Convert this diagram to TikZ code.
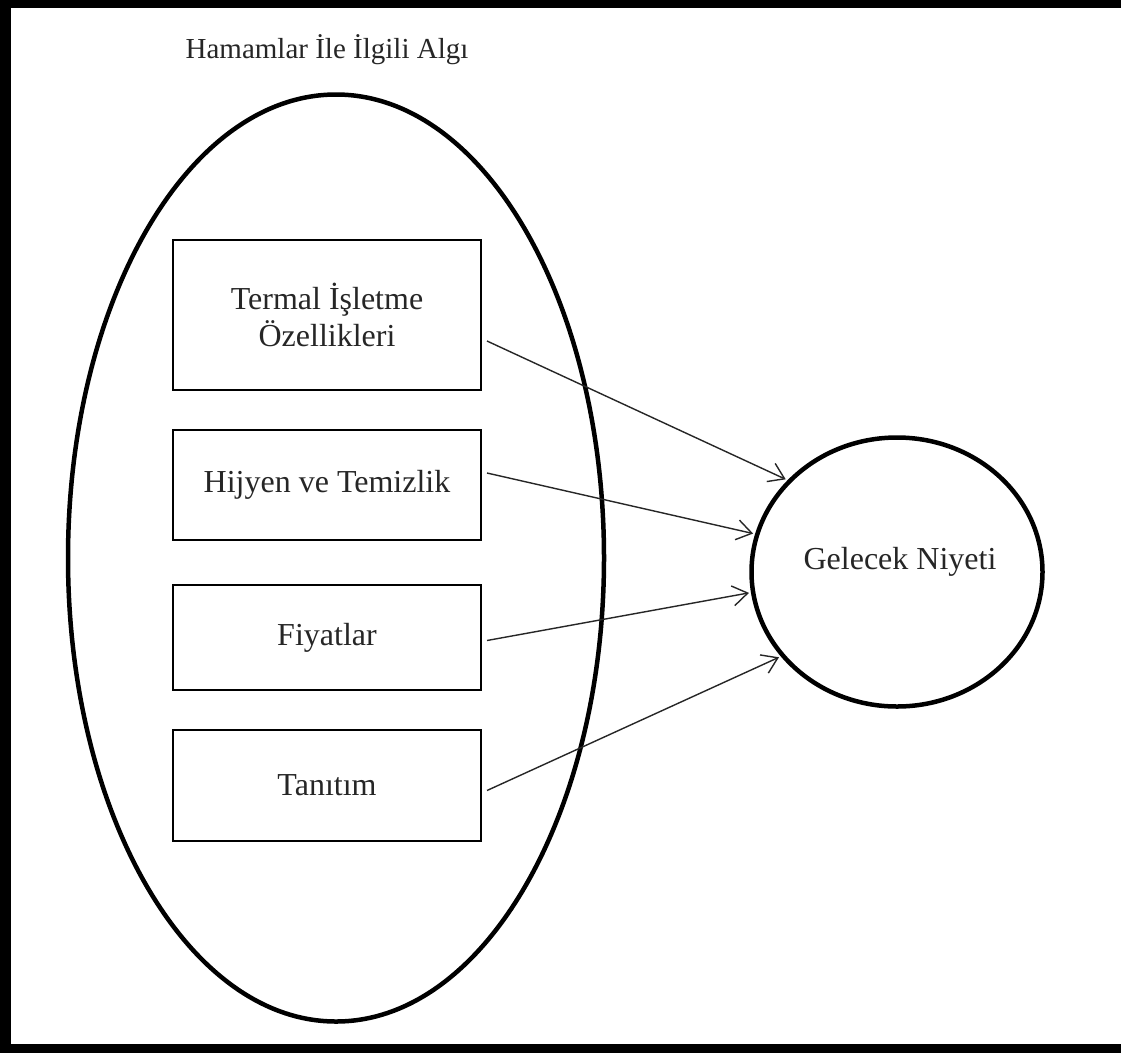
\documentclass[tikz,border=0pt]{standalone}
\usepackage{fontspec}
\setmainfont{Liberation Serif}
\usetikzlibrary{shapes.geometric,arrows.meta,calc}
\begin{document}
\begin{tikzpicture}[x=1pt,y=-1pt,
  txt/.style={font=\fontsize{29}{37}\selectfont, text=black!85},
  btxt/.style={font=\fontsize{32}{37}\selectfont, text=black!85},
  factor/.style={draw, line width=2pt, minimum width=308pt, inner sep=0pt, btxt, align=center},
  link/.style={line width=1.4pt, black!85, -{Straight Barb[length=15pt,width=20pt,line width=1.4pt]}, shorten >=2pt}]
\useasboundingbox (0,0) rectangle (1121,1053);
\fill[white] (0,0) rectangle (1121,1053);
% frame bands
\fill[black] (0,0) rectangle (1121,8);
\fill[black] (0,1044) rectangle (1121,1053);
\fill[black] (0,0) rectangle (11,1053);
% title
\node[txt] (title) at (327,50) {Hamamlar İle İlgili Algı};
% big ellipse
\node[draw, ellipse, line width=4.5pt, minimum width=536pt, minimum height=927pt] (algi) at (336,558) {};
% factor boxes
\node[factor, minimum height=150pt] (b1) at (327,315) {Termal İşletme\\Özellikleri};
\node[factor, minimum height=110pt] (b2) at (327,485) {Hijyen ve Temizlik};
\node[factor, minimum height=105pt] (b3) at (327,637.5) {Fiyatlar};
\node[factor, minimum height=111pt] (b4) at (327,785.5) {Tanıtım};
% outcome
\node[draw, ellipse, line width=4.5pt, minimum width=291pt, minimum height=269pt] (g) at (897,572) {};
\node[btxt] (gtext) at ($(g.center)+(3,-10)$) {Gelecek Niyeti};
% links
\draw[link] ($(b1.east)+(5,26)$) -- (g.140);
\draw[link] ($(b2.east)+(5,-12)$) -- (g.165);
\draw[link] ($(b3.east)+(5,3)$) -- (g.188);
\draw[link] ($(b4.east)+(5,5)$) -- (g.216);
\end{tikzpicture}
\end{document}
